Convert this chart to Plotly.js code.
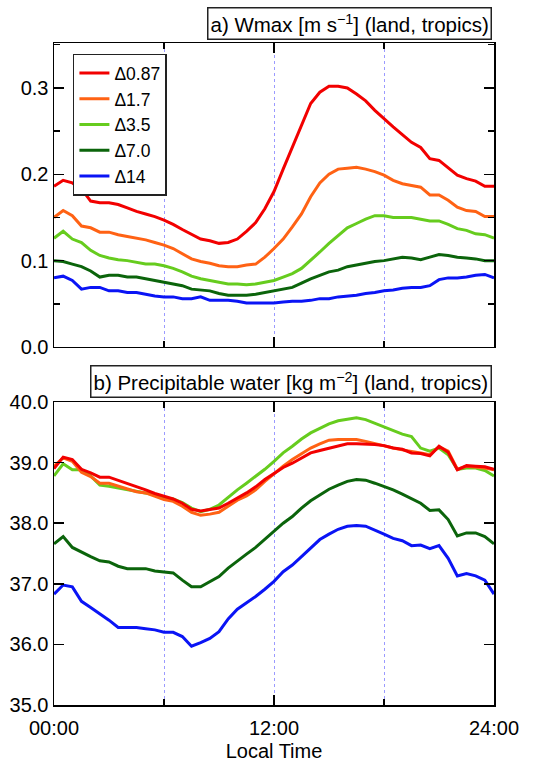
<!DOCTYPE html>
<html>
<head>
<meta charset="utf-8">
<script src="https://cdn.plot.ly/plotly-3.0.1.min.js"></script>
<style>html,body{margin:0;padding:0;background:#fff;}#chart{width:539px;height:764px;}</style>
</head>
<body>
<div id="chart"></div>
<script>
// Local time (hours)
const hours = [0,0.5,1,1.5,2,2.5,3,3.5,4,4.5,5,5.5,6,6.5,7,7.5,8,8.5,9,9.5,10,10.5,11,11.5,12,12.5,13,13.5,14,14.5,15,15.5,16,16.5,17,17.5,18,18.5,19,19.5,20,20.5,21,21.5,22,22.5,23,23.5,24];

const seriesNames = ["\u03940.87","\u03941.7","\u03943.5","\u03947.0","\u039414"];
const seriesColors = ["#f20000","#ff6214","#66cc1e","#0b640b","#0a14f5"];

// a) Wmax [m s-1]
const wmax087 = [0.186,0.193,0.190,0.183,0.169,0.167,0.167,0.165,0.161,0.157,0.154,0.151,0.147,0.142,0.136,0.130,0.125,0.123,0.120,0.121,0.125,0.134,0.144,0.160,0.180,0.206,0.231,0.258,0.282,0.295,0.302,0.302,0.300,0.293,0.285,0.274,0.264,0.255,0.246,0.237,0.231,0.218,0.216,0.208,0.199,0.195,0.192,0.186,0.186];
const wmax17  = [0.150,0.158,0.152,0.140,0.138,0.133,0.133,0.130,0.128,0.126,0.124,0.121,0.118,0.114,0.108,0.102,0.099,0.097,0.094,0.093,0.093,0.095,0.096,0.104,0.114,0.125,0.139,0.154,0.174,0.190,0.200,0.206,0.207,0.208,0.206,0.203,0.199,0.193,0.189,0.187,0.185,0.176,0.176,0.170,0.162,0.158,0.157,0.151,0.151];
const wmax35  = [0.126,0.134,0.125,0.121,0.112,0.106,0.103,0.101,0.100,0.098,0.096,0.096,0.094,0.091,0.087,0.082,0.079,0.077,0.075,0.073,0.073,0.072,0.073,0.075,0.077,0.081,0.085,0.091,0.100,0.110,0.120,0.129,0.138,0.143,0.148,0.152,0.152,0.150,0.150,0.150,0.148,0.146,0.146,0.142,0.137,0.135,0.131,0.130,0.126];
const wmax70  = [0.100,0.099,0.096,0.093,0.088,0.081,0.083,0.083,0.081,0.081,0.079,0.077,0.075,0.073,0.071,0.067,0.066,0.065,0.062,0.060,0.060,0.060,0.061,0.063,0.065,0.067,0.069,0.074,0.079,0.083,0.087,0.089,0.093,0.095,0.097,0.099,0.100,0.102,0.104,0.103,0.101,0.104,0.107,0.106,0.104,0.103,0.102,0.100,0.100];
const wmax14   = [0.080,0.082,0.077,0.067,0.069,0.069,0.065,0.065,0.063,0.063,0.061,0.059,0.058,0.058,0.056,0.056,0.058,0.054,0.054,0.054,0.053,0.051,0.051,0.051,0.051,0.052,0.053,0.053,0.054,0.056,0.056,0.058,0.059,0.060,0.062,0.063,0.065,0.066,0.068,0.069,0.069,0.071,0.078,0.080,0.080,0.081,0.083,0.084,0.080];

// b) Precipitable water [kg m-2]
const pw087 = [38.90,39.09,39.05,38.89,38.83,38.76,38.76,38.71,38.66,38.61,38.55,38.49,38.44,38.40,38.33,38.23,38.20,38.22,38.25,38.33,38.41,38.50,38.60,38.72,38.82,38.92,38.99,39.07,39.16,39.20,39.24,39.28,39.31,39.31,39.31,39.30,39.28,39.24,39.22,39.16,39.15,39.11,39.27,39.17,38.88,38.95,38.94,38.93,38.89];
const pw17  = [38.94,39.08,39.02,38.84,38.77,38.66,38.66,38.61,38.56,38.52,38.50,38.44,38.39,38.36,38.28,38.18,38.13,38.15,38.18,38.28,38.38,38.45,38.55,38.69,38.82,38.94,39.05,39.15,39.24,39.31,39.37,39.38,39.38,39.38,39.35,39.31,39.28,39.24,39.21,39.19,39.16,39.13,39.26,39.19,38.89,38.94,38.93,38.91,38.88];
const pw35  = [38.78,38.98,38.88,38.88,38.78,38.63,38.61,38.58,38.55,38.52,38.49,38.47,38.41,38.40,38.34,38.25,38.19,38.23,38.30,38.43,38.55,38.66,38.77,38.89,39.02,39.16,39.27,39.39,39.49,39.57,39.64,39.69,39.71,39.74,39.71,39.65,39.60,39.53,39.47,39.43,39.24,39.19,39.24,39.13,38.89,38.91,38.91,38.87,38.78];
const pw70  = [37.66,37.78,37.60,37.52,37.45,37.38,37.36,37.29,37.25,37.25,37.25,37.21,37.19,37.18,37.06,36.95,36.95,37.03,37.12,37.26,37.38,37.49,37.60,37.73,37.86,38.00,38.11,38.25,38.37,38.47,38.56,38.63,38.69,38.72,38.71,38.66,38.61,38.55,38.48,38.41,38.33,38.21,38.22,38.06,37.79,37.84,37.84,37.78,37.66];
const pw14   = [36.83,36.98,36.95,36.71,36.61,36.51,36.40,36.28,36.28,36.28,36.26,36.24,36.20,36.20,36.13,35.97,36.03,36.10,36.21,36.42,36.58,36.68,36.79,36.91,37.04,37.20,37.31,37.45,37.59,37.73,37.82,37.90,37.95,37.96,37.95,37.89,37.82,37.75,37.71,37.63,37.64,37.58,37.63,37.42,37.13,37.17,37.13,37.06,36.83];

const xTickVals = [0,12,24];
const xTickText = ["00:00","12:00","24:00"];
const titleA = "a) Wmax [m s<sup>\u22121</sup>] (land, tropics)";
const titleB = "b) Precipitable water [kg m<sup>\u22122</sup>] (land, tropics)";
const xTitle = "Local Time";

const wmaxSeries = [wmax087, wmax17, wmax35, wmax70, wmax14];
const pwSeries = [pw087, pw17, pw35, pw70, pw14];

const FONT = "Liberation Sans, Arial, Helvetica, sans-serif";
const GRID = '#9a9aff';
const traces = [];
// top panel
for (let i = 0; i < 5; i++) {
  traces.push({x: hours, y: wmaxSeries[i], xaxis: 'x2', yaxis: 'y2', type: 'scatter', mode: 'lines',
    name: seriesNames[i], line: {color: seriesColors[i], width: 3}, showlegend: true});
}
// bottom panel (draw red last)
for (let i = 4; i >= 0; i--) {
  traces.push({x: hours, y: pwSeries[i], xaxis: 'x', yaxis: 'y', type: 'scatter', mode: 'lines',
    name: seriesNames[i], line: {color: seriesColors[i], width: 3}, showlegend: false});
}

const xBase = {
  range: [0, 24], tickvals: xTickVals, ticktext: xTickText, ticks: 'inside', ticklen: 10,
  tickwidth: 1.5, tickcolor: '#000', showline: true, linecolor: '#000', linewidth: 1.5, mirror: 'ticks',
  zeroline: false, showgrid: true, gridcolor: GRID, gridwidth: 1, griddash: 'dot',
  minor: {dtick: 6, tick0: 0, ticks: 'inside', ticklen: 6, tickwidth: 1.5, tickcolor: '#000',
          showgrid: true, gridcolor: GRID, gridwidth: 1, griddash: 'dot'},
  tickfont: {family: FONT, size: 20, color: '#000'}, ticklabelstandoff: 4, fixedrange: true
};

const layout = {
  width: 539, height: 764,
  margin: {l: 54, r: 45, t: 43, b: 59},
  paper_bgcolor: '#fff', plot_bgcolor: '#fff',
  font: {family: FONT, size: 20, color: '#000'},
  showlegend: true,
  legend: {x: 0.043, y: 0.984, xanchor: 'left', yanchor: 'top', bgcolor: '#fff',
    bordercolor: '#222', borderwidth: 1.5, font: {family: FONT, size: 17.5, color: '#000'},
    tracegroupgap: 0, itemwidth: 30},
  xaxis: Object.assign({}, xBase, {anchor: 'y', title: {text: xTitle, font: {family: FONT, size: 20}, standoff: 6}}),
  xaxis2: Object.assign({}, xBase, {anchor: 'y2', matches: 'x', showticklabels: false}),
  yaxis: {domain: [0, 0.4577], range: [35, 40], dtick: 1, tick0: 35, tickformat: '.1f', ticks: 'inside',
    ticklen: 10, tickwidth: 1.5, tickcolor: '#000', showline: true, linecolor: '#000', linewidth: 1.5,
    mirror: 'ticks', showgrid: false, zeroline: false, tickfont: {family: FONT, size: 20, color: '#000'}, fixedrange: true},
  yaxis2: {domain: [0.5408, 1], range: [0, 0.352], dtick: 0.1, tick0: 0, tickformat: '.1f', ticks: 'inside',
    ticklen: 10, tickwidth: 1.5, tickcolor: '#000', showline: true, linecolor: '#000', linewidth: 1.5,
    mirror: 'ticks', showgrid: false, zeroline: false, tickfont: {family: FONT, size: 20, color: '#000'},
    minor: {dtick: 0.05, ticks: 'inside', ticklen: 6, tickwidth: 1.5, tickcolor: '#000'}, fixedrange: true},
  annotations: [
    {text: titleA, xref: 'paper', yref: 'paper', x: 1, y: 1, xanchor: 'right', yanchor: 'bottom',
     xshift: -2, yshift: 3, showarrow: false, font: {family: FONT, size: 20.5, color: '#000'},
     bordercolor: '#222', borderwidth: 1.5, borderpad: 2, bgcolor: '#fff'},
    {text: titleB, xref: 'paper', yref: 'paper', x: 1, y: 0.4577, xanchor: 'right', yanchor: 'bottom',
     xshift: -2, yshift: 4, showarrow: false, font: {family: FONT, size: 20.5, color: '#000'},
     bordercolor: '#222', borderwidth: 1.5, borderpad: 2, bgcolor: '#fff'}
  ]
};

Plotly.newPlot('chart', traces, layout, {displayModeBar: false, staticPlot: true});
</script>
</body>
</html>
